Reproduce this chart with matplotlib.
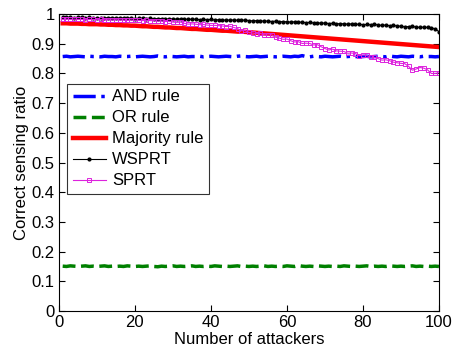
import numpy as np
import matplotlib
matplotlib.use("Agg")
import matplotlib.pyplot as plt

plt.rcParams['font.family'] = ['Liberation Sans', 'DejaVu Sans']

# Data
attackers = list(range(1, 101))

and_rule = [
    0.857, 0.858, 0.856, 0.857, 0.858, 0.857, 0.856, 0.858, 0.857, 0.857,
    0.856, 0.858, 0.857, 0.857, 0.856, 0.858, 0.857, 0.857, 0.858, 0.856,
    0.857, 0.858, 0.857, 0.856, 0.857, 0.859, 0.857, 0.856, 0.858, 0.857,
    0.856, 0.857, 0.858, 0.856, 0.857, 0.857, 0.858, 0.856, 0.857, 0.858,
    0.857, 0.856, 0.857, 0.858, 0.857, 0.856, 0.858, 0.859, 0.857, 0.856,
    0.857, 0.858, 0.856, 0.857, 0.858, 0.857, 0.856, 0.857, 0.858, 0.857,
    0.856, 0.858, 0.857, 0.860, 0.857, 0.856, 0.858, 0.857, 0.856, 0.858,
    0.857, 0.856, 0.857, 0.858, 0.856, 0.857, 0.858, 0.857, 0.856, 0.857,
    0.858, 0.856, 0.857, 0.858, 0.857, 0.856, 0.859, 0.857, 0.856, 0.858,
    0.857, 0.856, 0.858, 0.857, 0.856, 0.858, 0.857, 0.857, 0.856, 0.857,
]

or_rule = [
    0.151, 0.150, 0.152, 0.151, 0.150, 0.151, 0.152, 0.150, 0.151, 0.150,
    0.151, 0.152, 0.150, 0.151, 0.150, 0.151, 0.150, 0.152, 0.151, 0.150,
    0.151, 0.150, 0.151, 0.152, 0.150, 0.149, 0.151, 0.150, 0.151, 0.152,
    0.150, 0.151, 0.150, 0.151, 0.152, 0.150, 0.151, 0.150, 0.151, 0.150,
    0.152, 0.151, 0.150, 0.151, 0.150, 0.151, 0.152, 0.150, 0.151, 0.150,
    0.151, 0.150, 0.151, 0.152, 0.150, 0.151, 0.150, 0.151, 0.150, 0.152,
    0.151, 0.150, 0.153, 0.151, 0.150, 0.151, 0.150, 0.152, 0.151, 0.150,
    0.151, 0.150, 0.151, 0.150, 0.152, 0.151, 0.150, 0.151, 0.150, 0.151,
    0.152, 0.150, 0.151, 0.150, 0.151, 0.150, 0.152, 0.151, 0.150, 0.151,
    0.150, 0.151, 0.152, 0.150, 0.151, 0.150, 0.151, 0.150, 0.151, 0.150,
]

majority_rule = [
    0.969, 0.969, 0.968, 0.968, 0.968, 0.967, 0.967, 0.966, 0.966, 0.966,
    0.965, 0.965, 0.964, 0.964, 0.963, 0.963, 0.962, 0.962, 0.961, 0.961,
    0.960, 0.959, 0.959, 0.958, 0.957, 0.957, 0.956, 0.955, 0.955, 0.954,
    0.953, 0.953, 0.952, 0.951, 0.950, 0.950, 0.949, 0.948, 0.947, 0.947,
    0.946, 0.945, 0.944, 0.944, 0.943, 0.942, 0.941, 0.941, 0.940, 0.939,
    0.938, 0.937, 0.936, 0.935, 0.934, 0.933, 0.932, 0.931, 0.930, 0.929,
    0.928, 0.927, 0.926, 0.925, 0.924, 0.923, 0.922, 0.921, 0.920, 0.919,
    0.918, 0.917, 0.916, 0.915, 0.914, 0.913, 0.912, 0.911, 0.910, 0.909,
    0.908, 0.907, 0.906, 0.905, 0.904, 0.903, 0.902, 0.901, 0.900, 0.899,
    0.898, 0.897, 0.896, 0.895, 0.894, 0.893, 0.892, 0.891, 0.890, 0.889,
]

wsprt = [
    0.989, 0.990, 0.989, 0.988, 0.989, 0.989, 0.988, 0.989, 0.988, 0.988,
    0.987, 0.988, 0.987, 0.988, 0.986, 0.987, 0.987, 0.986, 0.987, 0.985,
    0.986, 0.986, 0.985, 0.986, 0.984, 0.985, 0.985, 0.984, 0.983, 0.984,
    0.983, 0.984, 0.982, 0.983, 0.982, 0.983, 0.981, 0.982, 0.981, 0.982,
    0.980, 0.981, 0.981, 0.979, 0.980, 0.980, 0.979, 0.979, 0.980, 0.978,
    0.977, 0.978, 0.976, 0.977, 0.976, 0.975, 0.976, 0.974, 0.975, 0.974,
    0.973, 0.974, 0.972, 0.973, 0.971, 0.972, 0.970, 0.971, 0.969, 0.970,
    0.968, 0.969, 0.967, 0.968, 0.967, 0.966, 0.967, 0.965, 0.966, 0.964,
    0.965, 0.964, 0.966, 0.963, 0.962, 0.963, 0.961, 0.962, 0.960, 0.959,
    0.957, 0.958, 0.959, 0.956, 0.955, 0.956, 0.955, 0.954, 0.950, 0.941,
]

sprt = [
    0.982, 0.983, 0.982, 0.983, 0.982, 0.982, 0.981, 0.982, 0.982, 0.981,
    0.982, 0.981, 0.981, 0.980, 0.981, 0.980, 0.980, 0.979, 0.980, 0.979,
    0.979, 0.978, 0.979, 0.978, 0.978, 0.976, 0.977, 0.975, 0.976, 0.973,
    0.972, 0.973, 0.969, 0.966, 0.967, 0.966, 0.964, 0.965, 0.963, 0.962,
    0.962, 0.961, 0.960, 0.958, 0.959, 0.955, 0.951, 0.944, 0.945, 0.938,
    0.936, 0.934, 0.935, 0.930, 0.929, 0.930, 0.922, 0.919, 0.915, 0.916,
    0.910, 0.906, 0.907, 0.901, 0.902, 0.901, 0.896, 0.897, 0.890, 0.884,
    0.879, 0.882, 0.876, 0.875, 0.874, 0.868, 0.869, 0.867, 0.860, 0.862,
    0.861, 0.855, 0.854, 0.850, 0.845, 0.846, 0.843, 0.838, 0.836, 0.834,
    0.833, 0.824, 0.811, 0.815, 0.820, 0.818, 0.812, 0.800, 0.800, 0.802,
]

fig = plt.figure(figsize=(4.53, 3.52), dpi=100)
ax = fig.add_axes([0.130, 0.1165, 0.839, 0.8435])

ax.plot(attackers, and_rule, color='#0000ff', linestyle='-.', linewidth=2.5, label='AND rule')
ax.plot(attackers, or_rule, color='#008000', linestyle='--', linewidth=2.5, label='OR rule')
ax.plot(attackers, majority_rule, color='#ff0000', linestyle='-', linewidth=3.2, label='Majority rule')
ax.plot(attackers, wsprt, color='black', linewidth=0.8, marker='.', markersize=4, label='WSPRT')
ax.plot(attackers, sprt, color='#dd22dd', linewidth=0.8, marker='s', markersize=3.5,
        markerfacecolor='none', markeredgewidth=0.7, label='SPRT')

ax.set_xlim(0, 100)
ax.set_ylim(0, 1)
ax.set_xticks([0, 20, 40, 60, 80, 100])
ax.set_yticks(np.arange(0, 1.01, 0.1))
ax.set_yticklabels(['0', '0.1', '0.2', '0.3', '0.4', '0.5', '0.6', '0.7', '0.8', '0.9', '1'])
ax.tick_params(direction='in', top=True, right=True, labelsize=12, length=4, pad=3)
ax.set_xlabel('Number of attackers', fontsize=12, labelpad=1)
ax.set_ylabel('Correct sensing ratio', fontsize=12, labelpad=2)

leg = ax.legend(loc='upper left', bbox_to_anchor=(0.021, 0.766), fontsize=12, frameon=True,
                fancybox=False, edgecolor='black', handlelength=2.0, borderpad=0.35,
                labelspacing=0.36, handletextpad=0.35, borderaxespad=0)
leg.get_frame().set_linewidth(0.8)

fig.savefig('out.png', dpi=100)
